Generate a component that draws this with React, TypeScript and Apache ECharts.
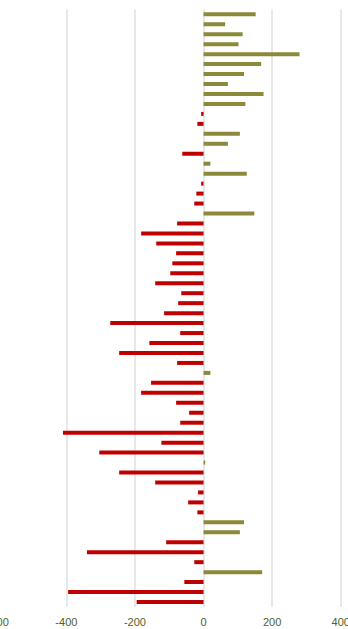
import React, { useEffect, useRef } from "react";
import * as echarts from "echarts";

const categories: string[] = [
  "1", "2", "3", "4", "5", "6", "7", "8", "9", "10",
  "11", "12", "13", "14", "15", "16", "17", "18", "19", "20",
  "21", "22", "23", "24", "25", "26", "27", "28", "29", "30",
  "31", "32", "33", "34", "35", "36", "37", "38", "39", "40",
  "41", "42", "43", "44", "45", "46", "47", "48", "49", "50",
  "51", "52", "53", "54", "55", "56", "57", "58", "59", "60",
];

const values: number[] = [
  152, 63, 114, 102, 280, 168, 118, 71, 175, 122,
  -7, -18, 106, 71, -62, 20, 126, -7, -21, -27,
  148, -77, -182, -138, -80, -91, -97, -141, -65, -74,
  -115, -272, -68, -158, -246, -77, 20, -153, -182, -80,
  -42, -68, -410, -123, -304, 5, -246, -141, -16, -45,
  -18, 118, 106, -109, -340, -27, 171, -56, -395, -195,
];

const xTicks = { min: -600, max: 400, interval: 200 };

const POS_COLOR = "#8b8a3a";
const NEG_COLOR = "#c00000";

export default function App() {
  const ref = useRef<HTMLDivElement>(null);
  useEffect(() => {
    if (!ref.current) return;
    const chart = echarts.init(ref.current, undefined, { renderer: "svg" });
    chart.setOption({
      animation: false,
      grid: { left: 37.8, right: 59.3, top: 9.3, bottom: 22, containLabel: false },
      xAxis: {
        type: "value",
        min: xTicks.min,
        max: xTicks.max,
        interval: xTicks.interval,
        axisLine: { show: false },
        axisTick: { show: false },
        axisLabel: {
          color: "#4f6228",
          fontSize: 11,
          fontFamily: "Liberation Sans, Arial, sans-serif",
          margin: 9,
        },
        splitLine: { show: true, lineStyle: { color: "#e0e0e0", width: 1.5 } },
      },
      yAxis: {
        type: "category",
        inverse: true,
        data: categories,
        axisLine: { show: false },
        axisTick: { show: false },
        axisLabel: { show: false },
        splitLine: { show: false },
      },
      series: [
        {
          type: "bar",
          barWidth: 4,
          data: values.map((v) => ({
            value: v,
            itemStyle: { color: v >= 0 ? POS_COLOR : NEG_COLOR },
          })),
        },
      ],
    });
    return () => chart.dispose();
  }, []);
  return (
    <div
      style={{
        position: "fixed",
        left: 0,
        top: 0,
        width: 348,
        height: 629,
        overflow: "hidden",
        background: "#fff",
      }}
    >
      <div
        ref={ref}
        style={{ position: "absolute", left: -40, top: 0, width: 440, height: 629 }}
      />
    </div>
  );
}
